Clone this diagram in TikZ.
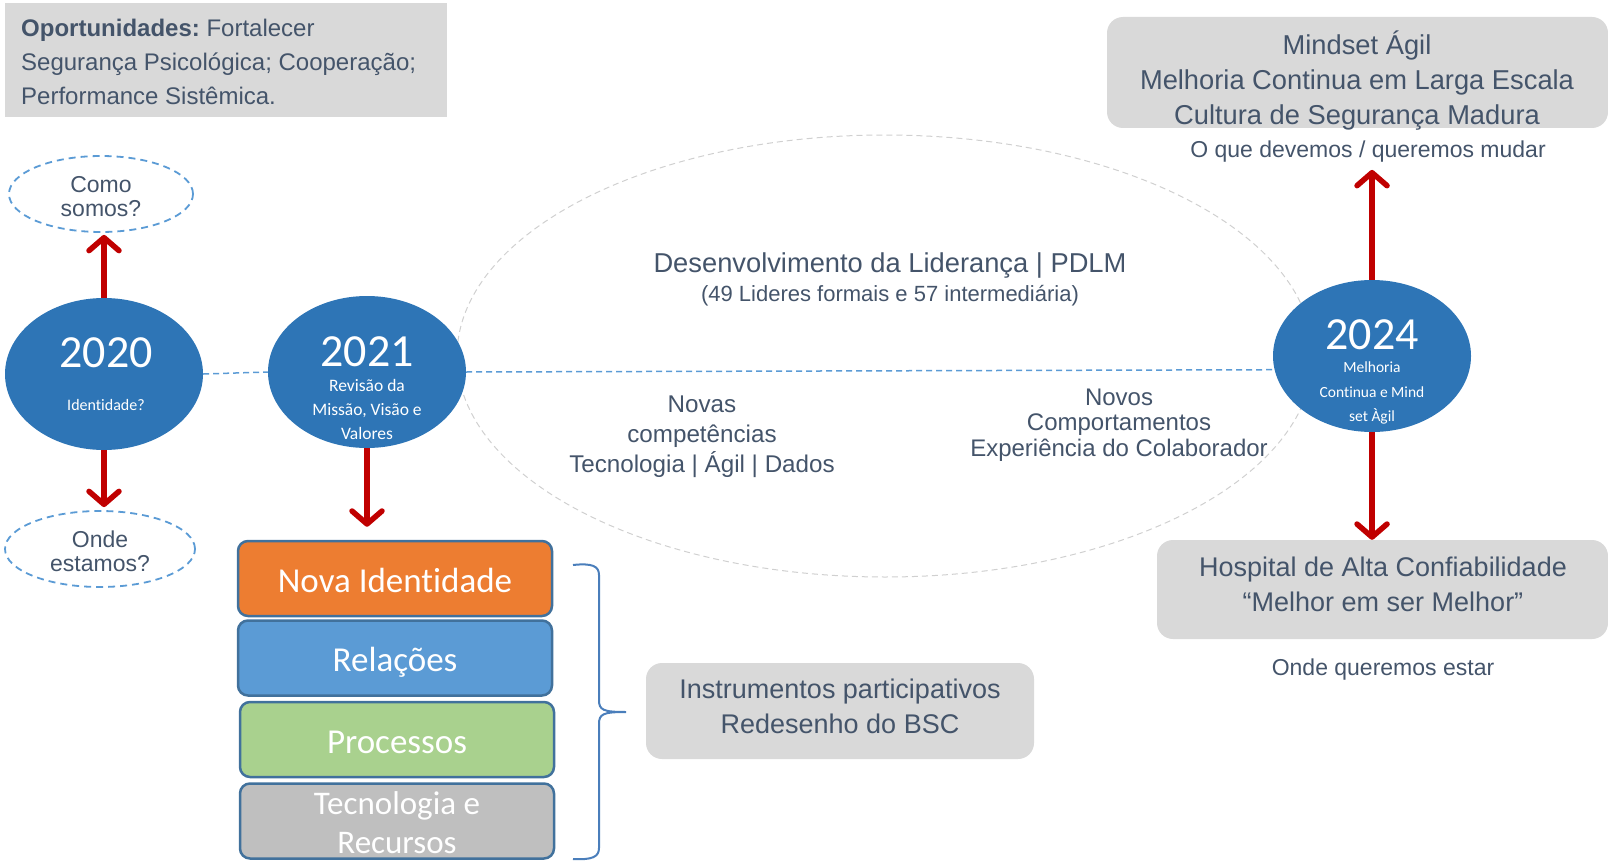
\documentclass[tikz,border=0pt]{standalone}
\usepackage{fontspec}
\setmainfont{Liberation Sans}
\newfontfamily\calib[Ligatures=NoCommon]{Carlito}
\usetikzlibrary{shapes.geometric, arrows.meta}
\definecolor{ink}{HTML}{44546A}
\definecolor{ballblue}{HTML}{2E75B6}
\definecolor{paleblue}{HTML}{5B9BD5}
\definecolor{boxgray}{HTML}{D9D9D9}
\definecolor{arrowred}{HTML}{C00000}
\definecolor{rim}{HTML}{41719C}
\definecolor{orng}{HTML}{ED7D31}
\definecolor{grn}{HTML}{A9D18E}
\definecolor{midgray}{HTML}{BFBFBF}
\definecolor{ringgray}{HTML}{D0D0D0}
\definecolor{bracecol}{HTML}{4A7EBB}
\newcommand{\fs}[2]{\fontsize{#1}{#2}\selectfont\frenchspacing}

\begin{document}
\begin{tikzpicture}[x=1pt, y=-1pt,
	ball/.style={ellipse, fill=ballblue, minimum width=198pt, minimum height=152pt, inner sep=0pt},
	year/.style={text=white, inner sep=0pt, font=\calib\fs{46}{50}},
	sub/.style={text=white, inner sep=0pt, align=center, font=\calib\fs{17.5}{24}},
	ask/.style={ellipse, draw=paleblue, line width=1.8pt, dash pattern=on 7pt off 5pt, minimum width=#1, minimum height=76pt, inner sep=0pt},
	link/.style={paleblue, line width=1.5pt, dash pattern=on 6pt off 4pt},
	push/.style={draw=arrowred, line width=6pt, -{Straight Barb[length=13pt, width=30pt, line width=5.5pt, round]}},
	layer/.style={draw=rim, line width=2.5pt, rounded corners=10pt, minimum width=314pt, minimum height=75pt},
	inlayer/.style={text=white, align=center, inner sep=0pt, font=\calib\fs{35}{39}},
	panel/.style={fill=boxgray, rounded corners=16pt},
	note/.style={text=ink, align=center, inner sep=2pt}]
		\useasboundingbox(0, 0) rectangle (1608, 861);
		\draw[ringgray, line width=1pt, dash pattern=on 6pt off 4pt](885, 356) ellipse [x radius=428, y radius=221];
		\node[fill=boxgray, minimum width=442pt, minimum height=114pt](oportbox) at (226, 60){};
		\node[anchor=west, align=left, inner sep=0pt, text=ink, font=\fs{24}{34}](oport) at (21, 62){\textbf{Oportunidades:} Fortalecer\\Segurança Psicológica; Cooperação;\\Performance Sistêmica.};
		\node[ball](y2020) at (104, 374){};
		\node[ball](y2021) at (367, 372){};
		\node[ball](y2024) at (1372, 356){};
		\node[year](t2020) at (106, 353){2020};
		\node[sub, font=\calib\fs{16}{24}](s2020) at (106, 405){Identidade?};
		\node[year](t2021) at (367, 352){2021};
		\node[sub](s2021) at (367, 409){Revisão da\\Missão, Visão e\\Valores};
		\node[year](t2024) at (1372, 335){2024};
		\node[sub, font=\calib\fs{15.5}{24.5}](s2024) at (1372, 393){Melhoria\\Continua e Mind\\set Àgil};
		\draw[link](y2020.east)--(y2021.west);
		\draw[link](y2021.east)--(y2024.188);
		\node[ask=184pt](como) at (101, 194){};
		\node[note, font=\fs{23}{24}](comotxt) at (101, 197){Como\\somos?};
		\node[ask=190pt](onde) at (100, 549){};
		\node[note, font=\fs{23}{24}](ondetxt) at (100, 551){Onde\\estamos?};
		% stack
		\node[layer, fill=orng](nova) at (395, 578.5){};
		\node[inlayer](novatxt) at (395, 580){Nova Identidade};
		\node[layer, fill=paleblue](rel) at (395, 658){};
		\node[inlayer](reltxt) at (395, 662){Relações};
		\node[layer, fill=grn](proc) at (397, 739.5){};
		\node[inlayer](proctxt) at (397, 742){Processos};
		\node[layer, fill=midgray](tec) at (397, 821){};
		\node[inlayer, font=\calib\fs{33}{39}](tectxt) at (397, 823){Tecnologia e\\Recursos};
		\draw[bracecol, line width=2pt](573, 565) .. controls (592, 563) and (599, 566) .. (599, 575)--(599, 700) .. controls (599, 710) and (603, 712) .. (626, 712) .. controls (603, 712) and (599, 714) .. (599, 724)--(599, 848) .. controls (599, 857) and (592, 860) .. (573, 859);
		\node[panel, minimum width=388pt, minimum height=96pt](instbox) at (840, 711){};
		\node[note, font=\fs{27}{35}](insttxt) at (840, 706.5){Instrumentos participativos\\Redesenho do BSC};
		% middle texts
		\node[note, font=\fs{27.3}{30}](lider) at (890, 266){Desenvolvimento da Liderança | PDLM};
		\node[note, font=\fs{22}{26}](lidnum) at (890, 296){(49 Lideres formais e 57 intermediária)};
		\node[note, font=\fs{24.2}{30}](novas) at (702, 437){Novas\\competências\\Tecnologia | Ágil | Dados};
		\node[note, font=\fs{24}{25.5}](novos) at (1119, 425){Novos\\Comportamentos\\Experiência do Colaborador};
		% right side
		\node[panel, minimum width=501pt, minimum height=111pt](mindbox) at (1357.5, 72.5){};
		\node[note, font=\fs{27.3}{35}](mindtxt) at (1357, 81){Mindset Ágil\\Melhoria Continua em Larga Escala\\Cultura de Segurança Madura};
		\node[note, font=\fs{23}{28}](mudar) at (1368, 152){O que devemos / queremos mudar};
		\node[panel, minimum width=451pt, minimum height=99pt](hospbox) at (1382.5, 589.5){};
		\node[note, font=\fs{27}{35}](hosptxt) at (1383, 584.5){Hospital de Alta Confiabilidade\\“Melhor em ser Melhor”};
		\node[note, font=\fs{23}{28}](estar) at (1383, 670){Onde queremos estar};
		% arrows
		\draw[push, shorten >=2pt](y2020.north)--(y2020.north |- como.south);
		\draw[push, shorten >=3pt](y2020.south)--(y2020.south |- onde.north);
		\draw[push, shorten >=13pt](y2021.south)--(y2021.south |- nova.north);
		\draw[push, shorten >=5pt](y2024.north)--(y2024.north |- mudar.south);
		\draw[push](y2024.south)--(y2024.south |- hospbox.north);
	\end{tikzpicture}
\end{document}
